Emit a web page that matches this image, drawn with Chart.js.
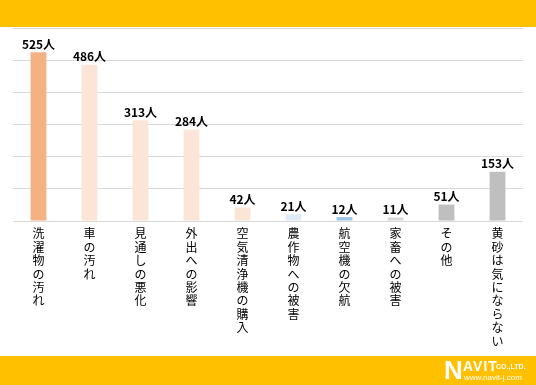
<!DOCTYPE html>
<html>
<head>
<meta charset="utf-8">
<script src="https://cdn.jsdelivr.net/npm/chart.js"></script>
<style>
  body { margin: 0; background: #fff; }
  #wrap { position: relative; width: 536px; height: 385px; overflow: hidden; }
  .band { position: absolute; left: 0; width: 536px; background: #FFC000; }
  #logo { position: absolute; left: 444px; top: 356px; width: 92px; height: 29px; color: #fff; font-family: "Liberation Sans", Arial, sans-serif; }
  #logo .n { position: absolute; left: 0; top: 1px; font-size: 26px; font-weight: bold; line-height: 26px; }
  #logo .avit { position: absolute; left: 19px; top: 3px; font-size: 14px; font-weight: bold; letter-spacing: 1px; line-height: 14px; }
  #logo .co { position: absolute; left: 52px; top: 7px; font-size: 7px; font-weight: bold; line-height: 8px; }
  #logo .url { position: absolute; left: 20px; top: 17px; font-size: 8px; line-height: 9px; }
</style>
</head>
<body>
<div id="wrap">
  <canvas id="myChart" width="536" height="385"></canvas>
  <div class="band" style="top:0;height:27px;"></div>
  <div class="band" style="top:356px;height:29px;"></div>
  <div id="logo"><span class="n">N</span><span class="avit">AVIT</span><span class="co">CO.,LTD.</span><span class="url">www.navit-j.com</span></div>
</div>
<script>
var categories = ['洗濯物の汚れ', '車の汚れ', '見通しの悪化', '外出への影響', '空気清浄機の購入', '農作物への被害', '航空機の欠航', '家畜への被害', 'その他', '黄砂は気にならない'];
var values = [525, 486, 313, 284, 42, 21, 12, 11, 51, 153];
var barColors = ['#F4B183', '#FBE5D6', '#FBE5D6', '#FBE5D6', '#FBE5D6', '#DEEBF7', '#9DC3E6', '#D9D9D9', '#BFBFBF', '#BFBFBF'];
var unit = '人';

var valueLabels = {
  id: 'valueLabels',
  afterDatasetsDraw: function(chart) {
    var ctx = chart.ctx;
    var meta = chart.getDatasetMeta(0);
    ctx.save();
    ctx.font = 'bold 12px "Noto Sans CJK JP", sans-serif';
    ctx.fillStyle = '#000';
    ctx.textAlign = 'center';
    ctx.textBaseline = 'bottom';
    meta.data.forEach(function(bar, i) {
      ctx.fillText(values[i] + unit, bar.x, bar.y - 2);
    });
    ctx.restore();
  }
};

var ctx = document.getElementById('myChart').getContext('2d');
var myChart = new Chart(ctx, {
  type: 'bar',
  data: {
    labels: categories.map(function(c) { return c.split(''); }),
    datasets: [{
      data: values,
      backgroundColor: barColors,
      borderWidth: 0,
      barPercentage: 0.62,
      categoryPercentage: 0.5
    }]
  },
  options: {
    responsive: false,
    animation: false,
    layout: { padding: { left: 13, right: 13, top: 28, bottom: 0 } },
    plugins: { legend: { display: false }, tooltip: { enabled: false } },
    scales: {
      x: {
        grid: { display: false },
        border: { display: false },
        ticks: {
          padding: -2,
          maxRotation: 0,
          autoSkip: false,
          color: '#000',
          font: { family: '"Noto Sans CJK JP", sans-serif', size: 12, lineHeight: 1.12 }
        },
        afterFit: function(scale) { scale.height = 164; }
      },
      y: {
        min: 0,
        max: 600,
        ticks: { display: false, stepSize: 100 },
        grid: { color: '#D9D9D9', lineWidth: 1, drawTicks: false },
        border: { display: false },
        afterFit: function(scale) { scale.width = 0; }
      }
    }
  },
  plugins: [valueLabels]
});
</script>
</body>
</html>
